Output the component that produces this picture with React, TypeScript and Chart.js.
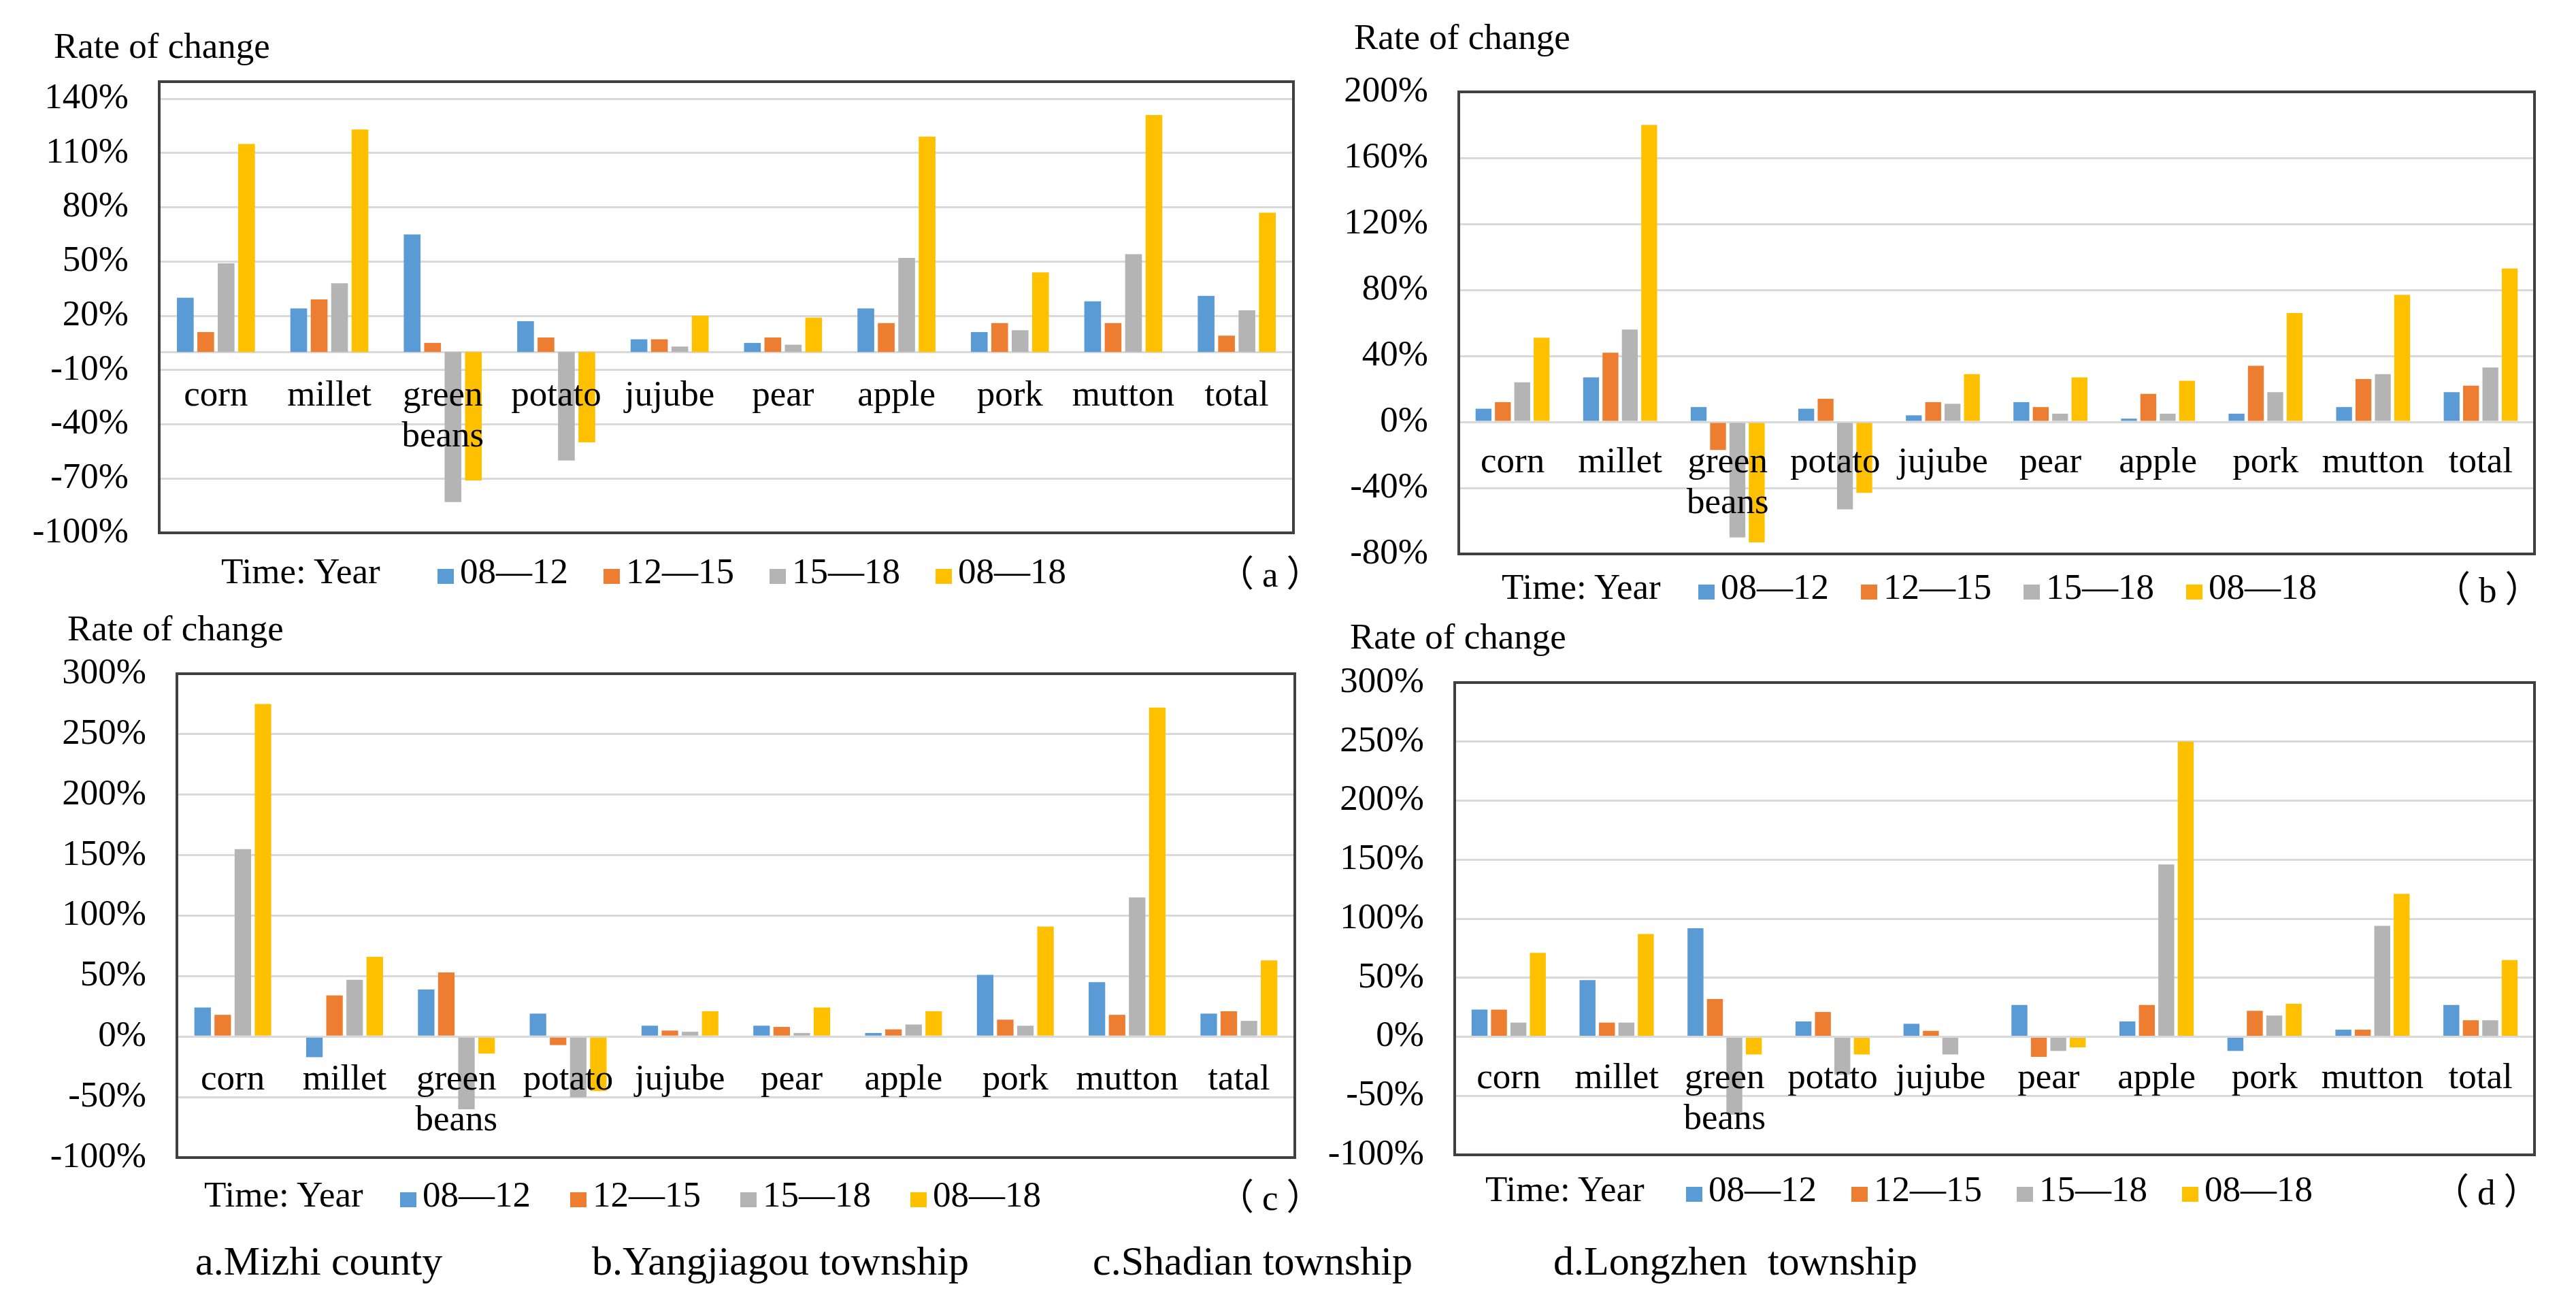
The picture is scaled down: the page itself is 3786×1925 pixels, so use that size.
import React, { useEffect, useRef } from 'react';
import { Chart, registerables } from 'chart.js';

Chart.register(...registerables);

// ---------- data ----------
const categories: (string | string[])[] = ['corn', 'millet', ['green', 'beans'], 'potato', 'jujube', 'pear', 'apple', 'pork', 'mutton', 'total'];
const categoriesC: (string | string[])[] = ['corn', 'millet', ['green', 'beans'], 'potato', 'jujube', 'pear', 'apple', 'pork', 'mutton', 'tatal'];
const seriesNames = ['08—12', '12—15', '15—18', '08—18'];
const seriesColors = ['#5B9BD5', '#ED7D31', '#B4B4B4', '#FFC000'];

// (a) Mizhi county
const a0812 = [30, 24, 65, 17, 7, 5, 24, 11, 28, 31];
const a1215 = [11, 29, 5, 8, 7, 8, 16, 16, 16, 9];
const a1518 = [49, 38, -83, -60, 3, 4, 52, 12, 54, 23];
const a0818 = [115, 123, -71, -50, 20, 19, 119, 44, 131, 77];

// (b) Yangjiagou township
const b0812 = [8, 27, 9, 8, 4, 12, 2, 5, 9, 18];
const b1215 = [12, 42, -17, 14, 12, 9, 17, 34, 26, 22];
const b1518 = [24, 56, -70, -53, 11, 5, 5, 18, 29, 33];
const b0818 = [51, 180, -73, -43, 29, 27, 25, 66, 77, 93];

// (c) Shadian township
const c0812 = [24, -17, 39, 19, 9, 9, 3, 51, 45, 19];
const c1215 = [18, 34, 53, -7, 5, 8, 6, 14, 18, 21];
const c1518 = [155, 47, -60, -50, 4, 3, 10, 9, 115, 13];
const c0818 = [275, 66, -14, -45, 21, 24, 21, 91, 272, 63];

// (d) Longzhen township
const d0812 = [23, 48, 92, 13, 11, 27, 13, -12, 6, 27];
const d1215 = [23, 12, 32, 21, 5, -17, 27, 22, 6, 14];
const d1518 = [12, 12, -66, -32, -15, -12, 146, 18, 94, 14];
const d0818 = [71, 87, -15, -15, 0, -9, 250, 28, 121, 65];

// axis ranges
const aAxis = { min: -100, max: 140, step: 30 };
const bAxis = { min: -80, max: 200, step: 40 };
const cAxis = { min: -100, max: 300, step: 50 };
const dAxis = { min: -100, max: 300, step: 50 };

const captions = ['a.Mizhi county', 'b.Yangjiagou township', 'c.Shadian township', 'd.Longzhen  township'];
const tags = ['a', 'b', 'c', 'd'];

// ---------- layout ----------
const FONT = "'Times New Roman', 'Liberation Serif', serif";
const CJK = "'Noto Sans CJK SC', 'Noto Sans CJK JP', sans-serif";

type PanelCfg = {
  labels: (string | string[])[];
  series: number[][];
  axis: { min: number; max: number; step: number };
  x: number; y: number; w: number; h: number;
  yWidth: number; padTop: number; padBottom: number; padRight: number;
  xPad: number; frameExtra: number;
  titlePos: [number, number];
  legend: { tx: number; m0: number; pitch: number; base: number };
  tagPos: [number, number];
};

const panels: PanelCfg[] = [
  {
    labels: categories, series: [a0812, a1215, a1518, a0818], axis: aAxis,
    x: 0, y: 65, w: 1940, h: 798, yWidth: 234, padTop: 80, padBottom: 80, padRight: 39,
    xPad: 35, frameExtra: 25, titlePos: [79, 85],
    legend: { tx: 325, m0: 643, pitch: 244, base: 857 }, tagPos: [1790, 857],
  },
  {
    labels: categories, series: [b0812, b1215, b1518, b0818], axis: bAxis,
    x: 1950, y: 55, w: 1820, h: 839, yWidth: 194, padTop: 80, padBottom: 80, padRight: 45,
    xPad: 30, frameExtra: 0, titlePos: [1990, 72],
    legend: { tx: 2207, m0: 2496, pitch: 239, base: 880 }, tagPos: [3578, 880],
  },
  {
    labels: categoriesC, series: [c0812, c1215, c1518, c0818], axis: cAxis,
    x: 0, y: 910, w: 1940, h: 871, yWidth: 260, padTop: 80, padBottom: 80, padRight: 37,
    xPad: 34, frameExtra: 0, titlePos: [99, 941],
    legend: { tx: 300, m0: 588, pitch: 250, base: 1773 }, tagPos: [1790, 1773],
  },
  {
    labels: categories, series: [d0812, d1215, d1518, d0818], axis: dAxis,
    x: 1950, y: 923, w: 1820, h: 854, yWidth: 188, padTop: 80, padBottom: 80, padRight: 45,
    xPad: 32, frameExtra: 0, titlePos: [1984, 953],
    legend: { tx: 2183, m0: 2478, pitch: 243, base: 1765 }, tagPos: [3576, 1765],
  },
];
const captionX = [287, 870, 1606, 2283];
const captionBase = 1873;

const framePlugin = {
  id: 'frame',
  afterDraw(chart: any, _args: any, opts: any) {
    const { ctx, chartArea: ca } = chart;
    const extra = (opts && opts.extraTop) || 0;
    ctx.save();
    ctx.strokeStyle = '#404040';
    ctx.lineWidth = 4;
    ctx.strokeRect(ca.left, ca.top - extra, ca.right - ca.left, ca.bottom - ca.top + extra);
    ctx.restore();
  },
};

function Panel({ cfg }: { cfg: PanelCfg }) {
  const ref = useRef<HTMLCanvasElement>(null);
  useEffect(() => {
    const chart = new Chart(ref.current as HTMLCanvasElement, {
      type: 'bar',
      data: {
        labels: cfg.labels as any,
        datasets: cfg.series.map((d, i) => ({
          label: seriesNames[i],
          data: d,
          backgroundColor: seriesColors[i],
          borderWidth: 0,
          categoryPercentage: 0.72,
          barPercentage: 0.82,
        })),
      },
      options: {
        animation: false,
        responsive: false,
        devicePixelRatio: 1,
        layout: { padding: { left: 0, top: cfg.padTop, right: cfg.padRight, bottom: cfg.padBottom } },
        plugins: {
          legend: { display: false },
          tooltip: { enabled: false },
          frame: { extraTop: cfg.frameExtra },
        } as any,
        scales: {
          y: {
            min: cfg.axis.min,
            max: cfg.axis.max,
            ticks: {
              stepSize: cfg.axis.step,
              callback: (v: any) => `${v}%`,
              font: { family: FONT, size: 53 },
              color: '#000',
              padding: 45,
            },
            grid: { color: '#D9D9D9', lineWidth: 3, drawTicks: false },
            border: { display: false },
            afterFit: (s: any) => { s.width = cfg.yWidth; },
          },
          x: {
            position: { y: 0 } as any,
            grid: { display: false, drawTicks: false },
            border: { display: true, color: '#D9D9D9', width: 3 },
            ticks: {
              font: { family: FONT, size: 53, lineHeight: 1.13 },
              color: '#000',
              padding: cfg.xPad,
              maxRotation: 0,
              minRotation: 0,
              autoSkip: false,
              z: 1,
            },
          },
        },
      } as any,
      plugins: [framePlugin],
    });
    return () => chart.destroy();
  }, [cfg]);
  return (
    <canvas
      ref={ref}
      width={cfg.w}
      height={cfg.h}
      style={{ position: 'absolute', left: cfg.x, top: cfg.y, width: cfg.w, height: cfg.h }}
    />
  );
}

function T({ x, b, s = 53, children }: { x: number; b: number; s?: number; children: React.ReactNode }) {
  return (
    <div
      style={{
        position: 'absolute', left: x, top: b - 0.8375 * s, fontSize: s, lineHeight: `${s}px`,
        fontFamily: FONT, whiteSpace: 'pre', color: '#000',
      }}
    >
      {children}
    </div>
  );
}

function Legend({ cfg }: { cfg: PanelCfg }) {
  const { tx, m0, pitch, base } = cfg.legend;
  return (
    <>
      <T x={tx} b={base}>Time: Year</T>
      {seriesNames.map((n, i) => (
        <React.Fragment key={n + i}>
          <div
            style={{
              position: 'absolute', left: m0 + i * pitch, top: base - 21, width: 24, height: 22,
              background: seriesColors[i],
            }}
          />
          <T x={m0 + i * pitch + 33} b={base}>{n}</T>
        </React.Fragment>
      ))}
    </>
  );
}

export default function App() {
  return (
    <div style={{ position: 'fixed', left: 0, top: 0, width: 3786, height: 1925, background: '#fff', overflow: 'hidden' }}>
      {panels.map((p, i) => <Panel key={i} cfg={p} />)}
      {panels.map((p, i) => (
        <React.Fragment key={'t' + i}>
          <T x={p.titlePos[0]} b={p.titlePos[1]}>Rate of change</T>
          <Legend cfg={p} />
          <T x={p.tagPos[0]} b={p.tagPos[1]}>
            <span style={{ fontFamily: CJK }}>（</span>
            <span style={{ margin: '0 12px' }}>{tags[i]}</span>
            <span style={{ fontFamily: CJK }}>）</span>
          </T>
        </React.Fragment>
      ))}
      {captions.map((c, i) => (
        <T key={'c' + i} x={captionX[i]} b={captionBase} s={60}>{c}</T>
      ))}
    </div>
  );
}
